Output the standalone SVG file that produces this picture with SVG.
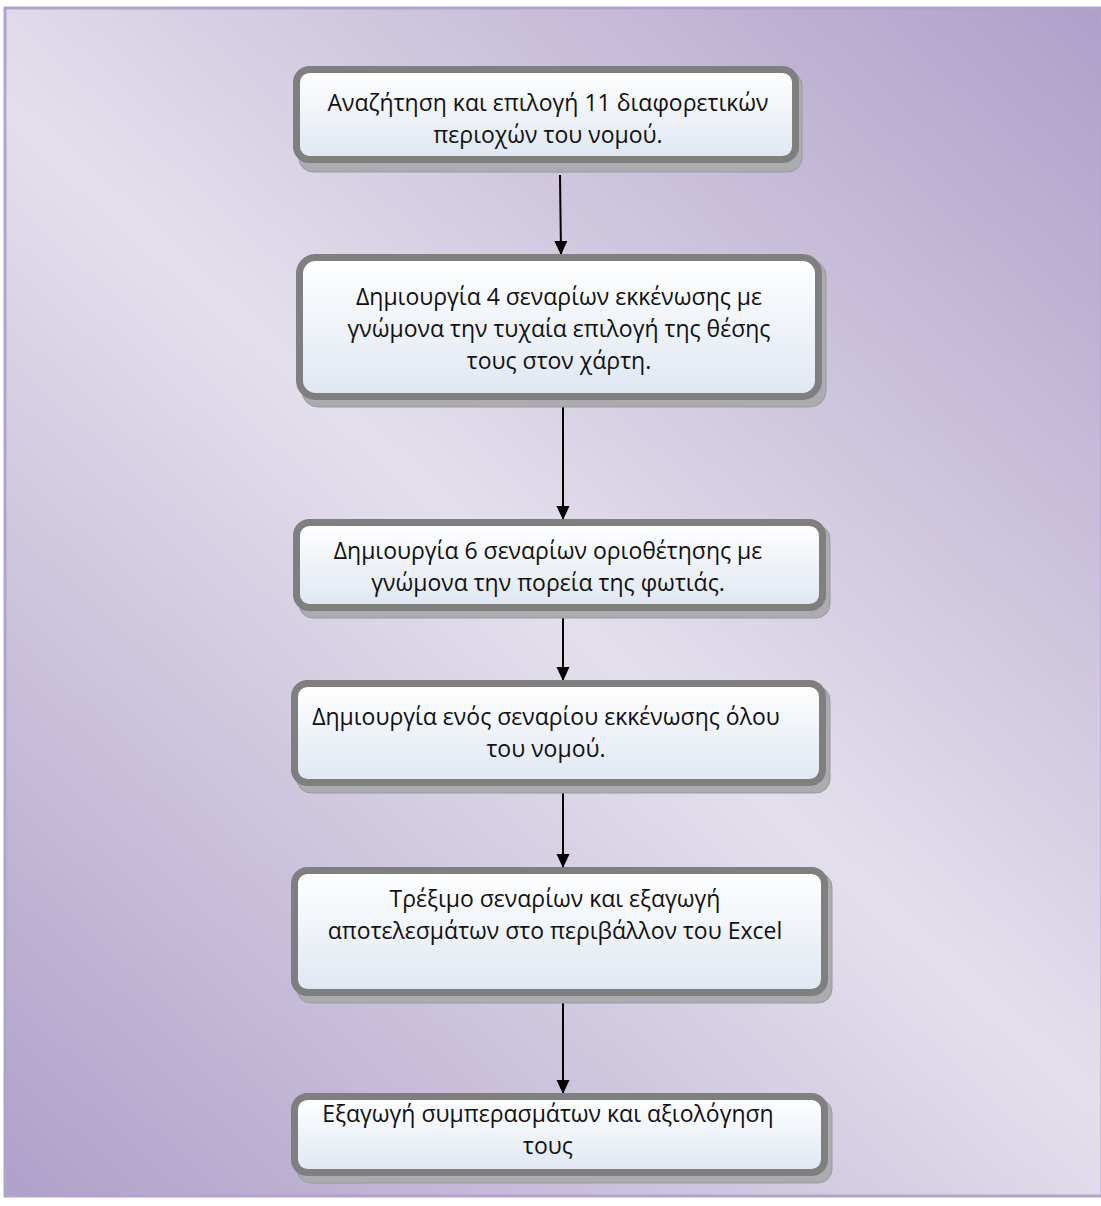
<svg xmlns="http://www.w3.org/2000/svg" width="1101" height="1206" viewBox="0 0 1101 1206">
<style>
.box{fill:url(#boxfill);stroke:#7f7f7f;stroke-width:7}
.shadow{fill:#ababb0;stroke:#9a9a9f;stroke-width:1}
.lbl{font-family:"Open Sans","Noto Sans","DejaVu Sans",sans-serif;font-size:23px;fill:#111;text-anchor:middle}
.conn{stroke:#000;stroke-width:2;fill:none}
</style>
<defs>
<linearGradient id="bg" gradientUnits="userSpaceOnUse" x1="1101" y1="0" x2="0" y2="1206">
<stop offset="0" stop-color="#ae9fc9"/>
<stop offset="0.5" stop-color="#e4dfec"/>
<stop offset="1" stop-color="#ae9fc9"/>
</linearGradient>
<linearGradient id="boxfill" x1="0" y1="0" x2="0" y2="1">
<stop offset="0" stop-color="#ffffff"/>
<stop offset="1" stop-color="#dfe7f2"/>
</linearGradient>
<marker id="arr" markerWidth="14" markerHeight="14" refX="13" refY="7" orient="auto" markerUnits="userSpaceOnUse">
<path d="M0,0.5 L14,7 L0,13.5 Z" fill="#000"/>
</marker>
</defs>
<rect x="0" y="0" width="1101" height="1206" fill="#fff"/>
<rect x="5" y="8" width="1097" height="1188" fill="url(#bg)" stroke="#b2a3cc" stroke-width="3"/>

<g id="connectors">
<line class="conn" x1="560" y1="175" x2="561" y2="254" marker-end="url(#arr)"/>
<line class="conn" x1="563" y1="403" x2="563" y2="519" marker-end="url(#arr)"/>
<line class="conn" x1="563" y1="614" x2="563" y2="680" marker-end="url(#arr)"/>
<line class="conn" x1="563" y1="789" x2="563" y2="867" marker-end="url(#arr)"/>
<line class="conn" x1="563" y1="999" x2="563" y2="1093" marker-end="url(#arr)"/>
</g>

<g id="node1">
<rect class="shadow" x="299" y="72" width="503" height="100" rx="14"/>
<rect class="box" x="296.5" y="69.5" width="499" height="90" rx="13"/>
<text class="lbl" x="548" y="111">Αναζήτηση και επιλογή 11 διαφορετικών</text>
<text class="lbl" x="548" y="143">περιοχών του νομού.</text>
</g>

<g id="node2">
<rect class="shadow" x="302" y="260" width="524" height="147" rx="16"/>
<rect class="box" x="299.5" y="257.5" width="519" height="139" rx="16"/>
<text class="lbl" x="559" y="305">Δημιουργία 4 σεναρίων εκκένωσης με</text>
<text class="lbl" x="559" y="337">γνώμονα την τυχαία επιλογή της θέσης</text>
<text class="lbl" x="559" y="369">τους στον χάρτη.</text>
</g>

<g id="node3">
<rect class="shadow" x="299" y="525" width="531" height="93" rx="14"/>
<rect class="box" x="296.5" y="522.5" width="526" height="85" rx="13"/>
<text class="lbl" x="548" y="559">Δημιουργία 6 σεναρίων οριοθέτησης με</text>
<text class="lbl" x="548" y="591">γνώμονα την πορεία της φωτιάς.</text>
</g>

<g id="node4">
<rect class="shadow" x="297" y="686" width="533" height="107" rx="14"/>
<rect class="box" x="294.5" y="683.5" width="528" height="99" rx="13"/>
<text class="lbl" x="546" y="725">Δημιουργία ενός σεναρίου εκκένωσης όλου</text>
<text class="lbl" x="546" y="757">του νομού.</text>
</g>

<g id="node5">
<rect class="shadow" x="297" y="873" width="535" height="130" rx="14"/>
<rect class="box" x="294.5" y="870.5" width="530" height="122" rx="13"/>
<text class="lbl" x="555" y="907">Τρέξιμο σεναρίων και εξαγωγή</text>
<text class="lbl" x="555" y="939">αποτελεσμάτων στο περιβάλλον του Excel</text>
</g>

<g id="node6">
<rect class="shadow" x="297" y="1099" width="535" height="84" rx="14"/>
<rect class="box" x="294.5" y="1096.5" width="530" height="76" rx="13"/>
<text class="lbl" x="548" y="1122">Εξαγωγή συμπερασμάτων και αξιολόγηση</text>
<text class="lbl" x="548" y="1154">τους</text>
</g>
</svg>
